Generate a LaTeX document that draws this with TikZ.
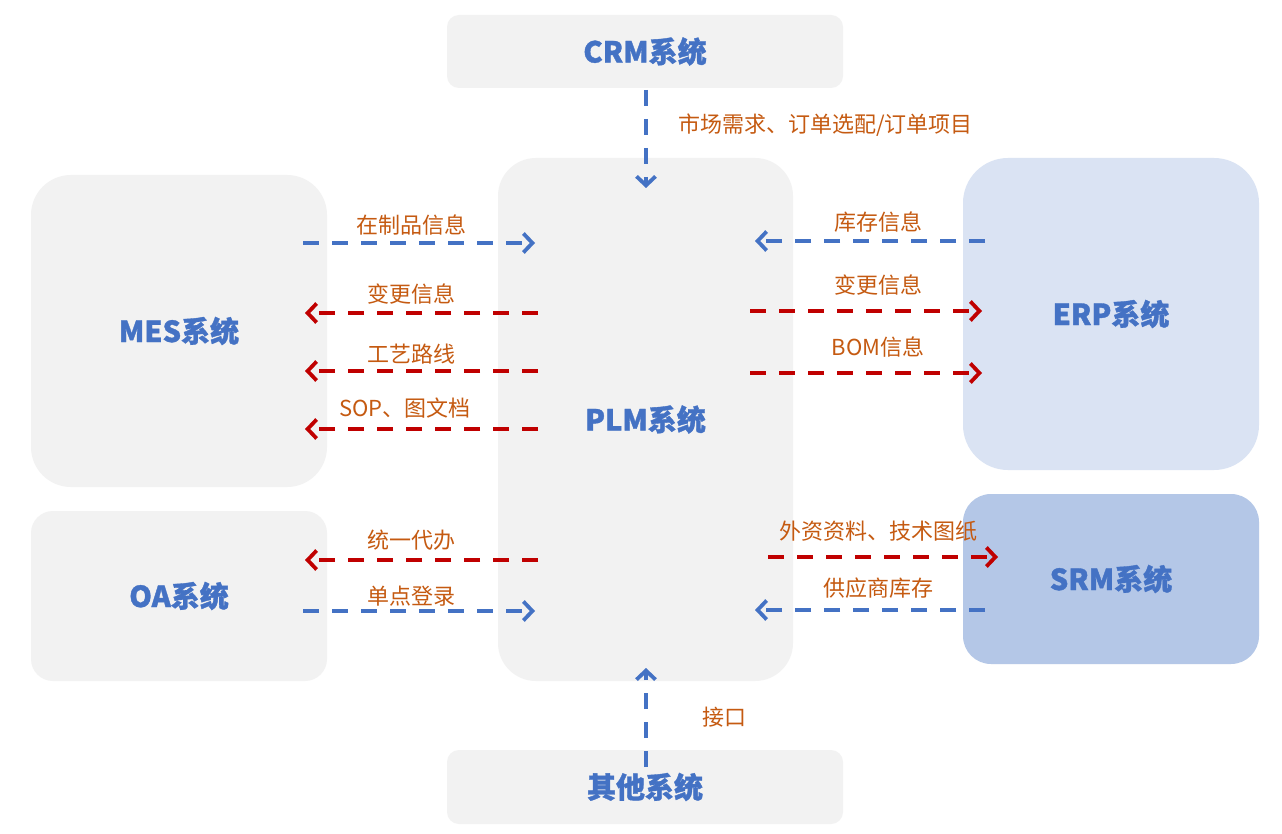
\documentclass[tikz,border=0pt]{standalone}
\usepackage{fontspec}
\setmainfont{Noto Sans CJK SC}
\newfontfamily\titlefont{Noto Sans CJK SC}[BoldFeatures={FakeBold=1.2}]
\usetikzlibrary{arrows.meta}
\definecolor{boxgray}{HTML}{F2F2F2}
\definecolor{erpblue}{HTML}{DAE3F3}
\definecolor{srmblue}{HTML}{B4C7E7}
\definecolor{titleblue}{HTML}{4472C4}
\definecolor{arrblue}{HTML}{4472C4}
\definecolor{arrred}{HTML}{C00000}
\definecolor{lblorange}{HTML}{C55A11}
\begin{document}
\begin{tikzpicture}[x=1pt,y=-1pt,
  sysbox/.style={fill=#1, draw=none, inner sep=0pt, text=titleblue, font=\titlefont\fontsize{29}{32}\selectfont\bfseries},
  lbl/.style={text=lblorange, font=\fontsize{22}{26}\selectfont, inner sep=0pt},
  flow/.style={line width=3.8pt, dash pattern=on 16pt off 13pt, -{Straight Barb[length=9pt,width=19pt,line width=3.8pt]}, #1}
]
\useasboundingbox (0,0) rectangle (1282,834);
\fill[white] (0,0) rectangle (1282,834);

% boxes
\node[sysbox=boxgray, minimum width=396pt, minimum height=73pt, rounded corners=12pt] (crm) at (645,51.5) {CRM系统};
\node[sysbox=boxgray, minimum width=295pt, minimum height=523pt, rounded corners=38pt] (plm) at (645.5,419.5) {PLM系统};
\node[sysbox=boxgray, minimum width=296pt, minimum height=312pt, rounded corners=40pt] (mes) at (179,331) {MES系统};
\node[sysbox=boxgray, minimum width=296pt, minimum height=170pt, rounded corners=22pt] (oa) at (179,596) {OA系统};
\node[sysbox=erpblue, minimum width=296pt, minimum height=312pt, rounded corners=45pt] (erp) at (1111,314) {ERP系统};
\node[sysbox=srmblue, minimum width=296pt, minimum height=170pt, rounded corners=28pt] (srm) at (1111,579) {SRM系统};
\node[sysbox=boxgray, minimum width=396pt, minimum height=74pt, rounded corners=12pt] (oth) at (645,787) {其他系统};

% coordinates for connector ends
\coordinate (crmS) at (646,90);   \coordinate (plmN) at (646,188);
\coordinate (othN) at (646,767);  \coordinate (plmS) at (646,668);
\coordinate (m1a) at (303,243); \coordinate (m1b) at (535,243);
\coordinate (m2a) at (538,313); \coordinate (m2b) at (305,313);
\coordinate (m3a) at (538,371); \coordinate (m3b) at (305,371);
\coordinate (m4a) at (538,429); \coordinate (m4b) at (305,429);
\coordinate (o1a) at (538,560); \coordinate (o1b) at (305,560);
\coordinate (o2a) at (303,611); \coordinate (o2b) at (535,611);
\coordinate (e1a) at (985,241); \coordinate (e1b) at (755,241);
\coordinate (e2a) at (750,311); \coordinate (e2b) at (982,311);
\coordinate (e3a) at (750,373); \coordinate (e3b) at (982,373);
\coordinate (s1a) at (768,557); \coordinate (s1b) at (998,557);
\coordinate (s2a) at (985,610); \coordinate (s2b) at (755,610);

% connectors
\draw[flow=arrblue] (crmS) -- (plmN);
\draw[flow=arrblue] (othN) -- (plmS);
\draw[flow=arrblue] (m1a) -- (m1b);
\draw[flow=arrred] (m2a) -- (m2b);
\draw[flow=arrred] (m3a) -- (m3b);
\draw[flow=arrred] (m4a) -- (m4b);
\draw[flow=arrred] (o1a) -- (o1b);
\draw[flow=arrblue] (o2a) -- (o2b);
\draw[flow=arrblue] (e1a) -- (e1b);
\draw[flow=arrred] (e2a) -- (e2b);
\draw[flow=arrred] (e3a) -- (e3b);
\draw[flow=arrred] (s1a) -- (s1b);
\draw[flow=arrblue] (s2a) -- (s2b);

% labels
\node[lbl, anchor=west] (l0) at (678,125) {市场需求、订单选配/订单项目};
\node[lbl, anchor=west] (l00) at (702,717) {接口};
\node[lbl] (l1) at (411,225) {在制品信息};
\node[lbl] (l2) at (411,294) {变更信息};
\node[lbl] (l3) at (411,354) {工艺路线};
\node[lbl] (l4) at (405,408) {SOP、图文档};
\node[lbl] (l5) at (411,540) {统一代办};
\node[lbl] (l6) at (411,596) {单点登录};
\node[lbl] (l7) at (878,222) {库存信息};
\node[lbl] (l8) at (878,285) {变更信息};
\node[lbl] (l9) at (878,347) {BOM信息};
\node[lbl] (l10) at (878,531) {外资资料、技术图纸};
\node[lbl] (l11) at (878,588) {供应商库存};
\end{tikzpicture}
\end{document}
